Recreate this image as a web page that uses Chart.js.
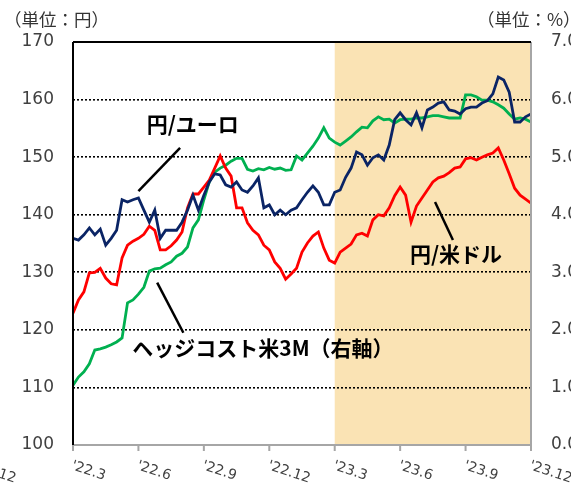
<!DOCTYPE html>
<html lang="ja">
<head>
<meta charset="UTF-8">
<title>円相場とヘッジコスト</title>
<style>
    html, body { margin: 0; padding: 0; background: #ffffff; }
    #wrap { width: 571px; height: 486px; }
</style>
</head>
<body>
<div id="wrap"><canvas id="fxChart" width="571" height="486"></canvas></div>

<script src="https://cdn.jsdelivr.net/npm/chart.js"></script>
<script>
    // 週次の値（'22.3 から '23.12 まで、0.25か月刻み）
    const euroYen = [135.9, 135.6, 136.5, 137.7, 136.5, 137.5, 134.7, 135.9, 137.3, 142.6,
        142.2, 142.6, 142.9, 140.8, 138.7, 140.8, 135.9, 137.3, 137.3, 137.3,
        138.7, 140.8, 143.4, 140.8, 143.4, 145.7, 147.1, 146.9, 145.2, 144.8,
        145.7, 144.3, 143.9, 145.0, 146.4, 141.2, 141.7, 140.0, 140.8, 140.0,
        140.8, 141.2, 142.6, 143.9, 145.0, 143.9, 141.7, 141.7, 143.9, 144.3,
        146.5, 148.1, 150.9, 150.4, 148.6, 149.9, 150.4, 149.5, 152.1, 156.5,
        157.7, 156.5, 155.6, 157.7, 155.1, 158.2, 158.7, 159.4, 159.6, 158.2,
        158.0, 157.5, 158.4, 158.7, 158.7, 159.4, 159.8, 161.0, 163.9, 163.4,
        161.3, 156.1, 156.1, 157.0, 157.5];

    const dollarYen = [122.9, 125.2, 126.6, 129.9, 130.0, 130.7, 129.0, 128.0, 127.8, 132.5,
        134.7, 135.4, 135.9, 136.6, 138.0, 137.3, 133.9, 133.9, 134.6, 135.6,
        137.0, 141.2, 143.6, 143.6, 144.8, 146.0, 148.1, 150.2, 148.1, 146.7,
        141.2, 141.2, 138.6, 137.3, 136.5, 134.7, 133.9, 131.8, 130.7, 128.8,
        129.7, 130.7, 133.5, 135.1, 136.3, 137.0, 134.2, 132.1, 131.6, 133.5,
        134.2, 134.9, 136.5, 136.8, 136.3, 139.1, 140.0, 139.8, 141.2, 143.3,
        144.8, 143.4, 138.7, 141.5, 142.9, 144.3, 145.7, 146.4, 146.7, 147.3,
        148.1, 148.3, 149.7, 149.9, 149.5, 150.0, 150.4, 150.7, 151.6, 149.5,
        147.1, 144.6, 143.4, 142.7, 142.0];

    const hedgeCost = [1.04, 1.18, 1.27, 1.41, 1.65, 1.67, 1.70, 1.74, 1.79, 1.86,
        2.47, 2.52, 2.62, 2.74, 3.02, 3.06, 3.07, 3.13, 3.18, 3.28,
        3.33, 3.44, 3.77, 3.91, 4.26, 4.57, 4.74, 4.81, 4.86, 4.93,
        4.98, 4.98, 4.79, 4.76, 4.80, 4.78, 4.82, 4.79, 4.81, 4.77,
        4.78, 5.02, 4.95, 5.07, 5.19, 5.33, 5.51, 5.33, 5.26, 5.21,
        5.28, 5.35, 5.44, 5.52, 5.51, 5.63, 5.70, 5.65, 5.66, 5.59,
        5.65, 5.66, 5.66, 5.68, 5.68, 5.70, 5.72, 5.72, 5.70, 5.68,
        5.68, 5.68, 6.08, 6.08, 6.05, 5.99, 5.99, 5.96, 5.91, 5.85,
        5.75, 5.66, 5.68, 5.66, 5.61];

    const quarterLabels = ["'22.3", "'22.6", "'22.9", "'22.12", "'23.3", "'23.6", "'23.9", "'23.12"];
    const step = 0.25; // か月
    const shadeFrom = 12; // '23.3
    const shadeTo = 21;   // '23.12

    const toPoints = arr => arr.map((v, i) => ({ x: i * step, y: v }));

    const jpFont = '"Noto Sans CJK JP", "Noto Sans", sans-serif';

    const bgPlugin = {
        id: 'bg',
        beforeDraw(chart) {
            const { ctx, chartArea } = chart;
            const x = chart.scales.x;
            const x1 = x.getPixelForValue(shadeFrom);
            const x2 = x.getPixelForValue(shadeTo);
            ctx.save();
            ctx.fillStyle = '#FAE3B4';
            ctx.fillRect(x1, chartArea.top, x2 - x1, chartArea.bottom - chartArea.top);
            ctx.restore();
        }
    };

    const framePlugin = {
        id: 'frame',
        afterDatasetsDraw(chart) {
            const { ctx, chartArea } = chart;
            const { left, right, top, bottom } = chartArea;
            const x = chart.scales.x;
            ctx.save();
            // 下軸・右枠（グレー）
            ctx.strokeStyle = '#A6A6A6';
            ctx.lineWidth = 2;
            ctx.beginPath();
            ctx.moveTo(left, bottom);
            ctx.lineTo(right, bottom);
            ctx.moveTo(right, top);
            ctx.lineTo(right, bottom);
            quarterLabels.forEach((lab, i) => {
                const px = x.getPixelForValue(i * 3);
                ctx.moveTo(px, bottom);
                ctx.lineTo(px, bottom + 6);
            });
            ctx.stroke();
            // 上・左（黒）
            ctx.strokeStyle = '#000000';
            ctx.beginPath();
            ctx.moveTo(left, top);
            ctx.lineTo(right, top);
            ctx.moveTo(left, top);
            ctx.lineTo(left, bottom);
            ctx.stroke();

            // 横軸ラベル（左端の切れたラベルも含む）
            ctx.fillStyle = '#404040';
            ctx.font = '14px "DejaVu Sans", sans-serif';
            ctx.textAlign = 'left';
            ctx.textBaseline = 'top';
            const drawLabel = (lab, px) => {
                ctx.save();
                ctx.translate(px + 1, bottom + 14);
                ctx.rotate(18 * Math.PI / 180);
                ctx.fillText(lab, 0, 0);
                ctx.restore();
            };
            quarterLabels.forEach((lab, i) => drawLabel(lab, x.getPixelForValue(i * 3)));
            drawLabel("'21.12", x.getPixelForValue(-4.5));
            ctx.restore();
        }
    };

    // 注記（位置はデータ座標で指定）
    const notes = [
        { text: '円/ユーロ', x: 3.38, y: 155.8, line: [4.91, 151.6, 3.0, 144.1] },
        { text: 'ヘッジコスト米3M（右軸）', x: 2.72, y: 116.9, line: [3.86, 128.2, 5.06, 119.5] },
        { text: '円/米ドル', x: 15.45, y: 133.2, line: [16.6, 142.2, 17.42, 135.6] }
    ];

    const notePlugin = {
        id: 'notes',
        afterDraw(chart) {
            const { ctx } = chart;
            const x = chart.scales.x;
            const y = chart.scales.y;
            ctx.save();
            notes.forEach(n => {
                ctx.strokeStyle = '#000000';
                ctx.lineWidth = 2.5;
                ctx.beginPath();
                ctx.moveTo(x.getPixelForValue(n.line[0]), y.getPixelForValue(n.line[1]));
                ctx.lineTo(x.getPixelForValue(n.line[2]), y.getPixelForValue(n.line[3]));
                ctx.stroke();
                ctx.fillStyle = '#000000';
                ctx.font = 'bold 21px ' + jpFont;
                ctx.textAlign = 'left';
                ctx.textBaseline = 'middle';
                ctx.fillText(n.text, x.getPixelForValue(n.x), y.getPixelForValue(n.y));
            });
            // 単位
            ctx.fillStyle = '#333333';
            ctx.font = '17.5px ' + jpFont;
            ctx.textBaseline = 'middle';
            ctx.fillText('（単位：円）', 4, 19);
            ctx.fillText('（単位：%）', 477, 19);
            ctx.restore();
        }
    };

    const ctx = document.getElementById('fxChart').getContext('2d');
    new Chart(ctx, {
        type: 'line',
        data: {
            datasets: [
                { label: '円/ユーロ', data: toPoints(euroYen), borderColor: '#0A2465', yAxisID: 'y' },
                { label: '円/米ドル', data: toPoints(dollarYen), borderColor: '#FF0000', yAxisID: 'y' },
                { label: 'ヘッジコスト米3M', data: toPoints(hedgeCost), borderColor: '#00B050', yAxisID: 'y2' }
            ]
        },
        options: {
            responsive: false,
            animation: false,
            devicePixelRatio: 1,
            layout: { padding: { top: 42, bottom: 41, left: 0, right: 0 } },
            elements: {
                line: { borderWidth: 2.8, tension: 0, fill: false },
                point: { radius: 0 }
            },
            plugins: {
                legend: { display: false },
                tooltip: { enabled: false }
            },
            scales: {
                x: { type: 'linear', min: 0, max: 21, display: false },
                y: {
                    position: 'left',
                    min: 100, max: 170,
                    ticks: {
                        stepSize: 10, padding: 19, color: '#404040',
                        font: { family: 'DejaVu Sans', size: 17 }
                    },
                    grid: {
                        drawTicks: false,
                        lineWidth: 1.6,
                        color: c => (c.tick && (c.tick.value === 100 || c.tick.value === 170)) ? 'rgba(0,0,0,0)' : '#000000'
                    },
                    border: { display: false, dash: [2, 2] },
                    afterFit: s => { s.width = 73; }
                },
                y2: {
                    position: 'right',
                    min: 0, max: 7,
                    ticks: {
                        stepSize: 1, padding: 20, color: '#404040',
                        font: { family: 'DejaVu Sans', size: 17 },
                        callback: v => v.toFixed(1)
                    },
                    grid: { display: false, drawTicks: false },
                    border: { display: false },
                    afterFit: s => { s.width = 40; }
                }
            }
        },
        plugins: [bgPlugin, framePlugin, notePlugin]
    });
</script>
</body>
</html>
